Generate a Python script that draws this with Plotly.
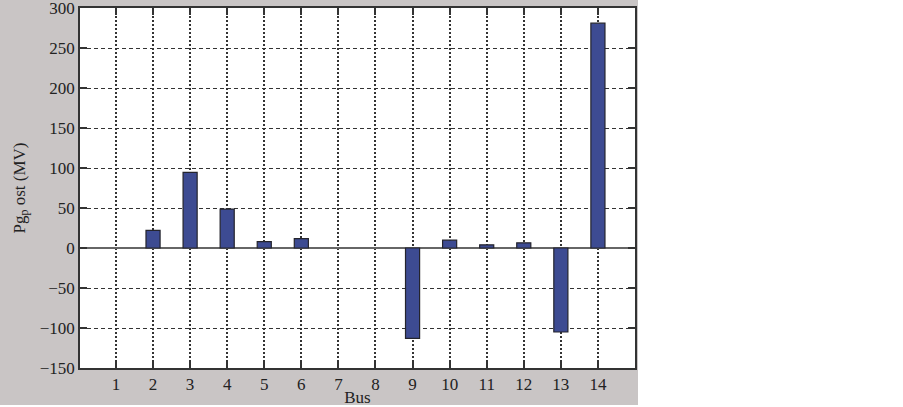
import plotly.graph_objects as go

buses = list(range(1, 15))
pg_post = [0, 22, 94.5, 48.7, 7.9, 11.6, 0, 0, -113, 9.8, 4, 6.5, -105, 281]
y_ticks = [-150, -100, -50, 0, 50, 100, 150, 200, 250, 300]

W, H = 903, 407
L, R, T, B = 80, 268, 8, 39
pw, ph = W - L - R, H - T - B

fig = go.Figure(go.Bar(
    x=buses, y=pg_post, width=0.38,
    marker=dict(color="#3d4b92",
                line=dict(color="#24242c", width=[0 if v == 0 else 1.2 for v in pg_post])),
))

font = dict(family="Liberation Serif, Times New Roman, serif", size=17, color="#222")


def px_x(p):
    return (p - L) / pw


def px_y(p):
    return (H - B - p) / ph


fig.update_layout(
    width=W, height=H,
    margin=dict(l=L, r=R, t=T, b=B, autoexpand=False),
    paper_bgcolor="#c9c5c5", plot_bgcolor="white",
    showlegend=False, font=font,
    shapes=[
        dict(type="rect", xref="paper", yref="paper", layer="above",
             x0=px_x(638), x1=px_x(W + 5), y0=px_y(H + 5), y1=px_y(-5),
             fillcolor="white", line=dict(width=0)),
        dict(type="rect", xref="paper", yref="paper", layer="above",
             x0=px_x(-5), x1=px_x(W + 5), y0=px_y(H + 5), y1=px_y(405),
             fillcolor="white", line=dict(width=0)),
    ],
)
fig.update_xaxes(
    range=[0.03, 15], tickvals=buses, ticktext=[str(b) for b in buses],
    showgrid=True, gridcolor="#333", gridwidth=1.5, griddash="2px,2px",
    showline=True, linecolor="#333", linewidth=1.5, mirror="ticks",
    ticks="inside", ticklen=7, tickcolor="#333", tickwidth=1.5,
    title=dict(text="Bus", standoff=0, font=font), zeroline=False,
    automargin=False, ticklabeloverflow="allow",
)
fig.update_yaxes(
    range=[-150, 300], tickvals=y_ticks,
    ticktext=[("\u2212" + str(-v)) if v < 0 else str(v) for v in y_ticks],
    showgrid=True, gridcolor="#333", gridwidth=1.3, griddash="4px,3px",
    showline=True, linecolor="#333", linewidth=1.5, mirror="ticks",
    ticks="inside", ticklen=7, tickcolor="#333", tickwidth=1.5,
    zeroline=True, zerolinecolor="#666", zerolinewidth=1.5,
    title=dict(text="Pg<sub>p</sub> ost (MV)", standoff=10, font=font),
    automargin=False, ticklabeloverflow="allow",
)

fig.write_html("out.html", config={"displayModeBar": False},
               post_script="document.body.style.margin='0';")
